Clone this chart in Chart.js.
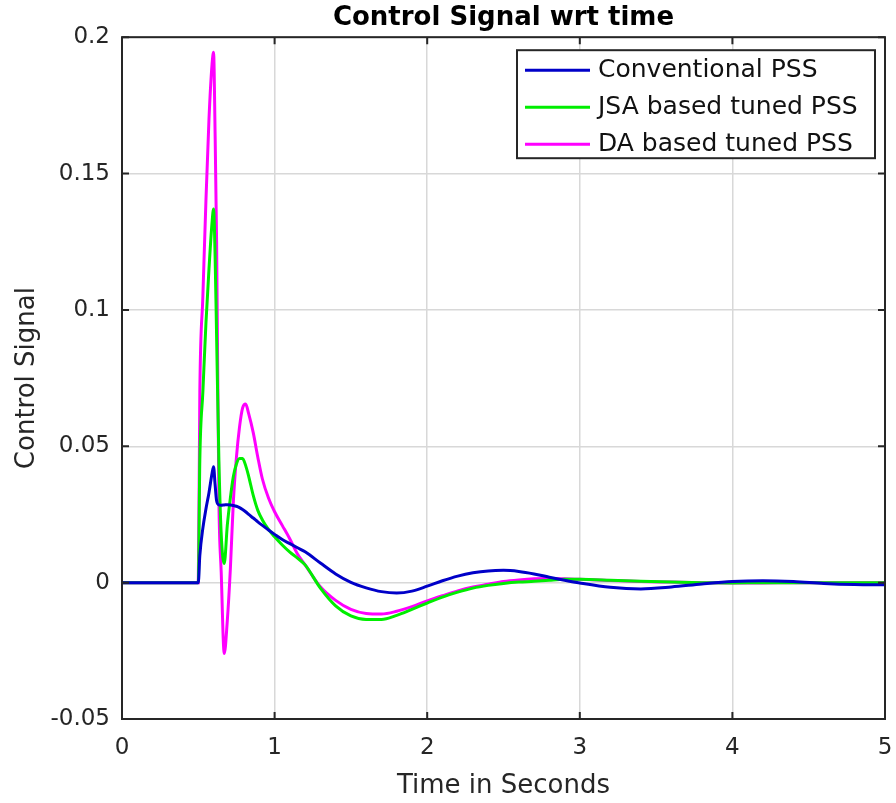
<!DOCTYPE html>
<html>
<head>
<meta charset="utf-8">
<script src="https://cdn.jsdelivr.net/npm/chart.js@4.4.1/dist/chart.umd.min.js"></script>
<style>
  html, body { margin: 0; padding: 0; background: #fff; }
  canvas { display: block; }
</style>
</head>
<body>
<canvas id="chart" width="896" height="803"></canvas>
<script>
// time in seconds (shared by all three series)
const timeSec = [
  0, 0.5, 0.51, 0.53, 0.55, 0.57, 0.59, 0.6, 0.61, 0.62, 0.635, 0.65, 0.67, 0.69, 0.71,
  0.73, 0.75, 0.77, 0.79, 0.81, 0.83, 0.86, 0.89, 0.92, 0.96, 1.0, 1.05, 1.1, 1.15, 1.2,
  1.3, 1.4, 1.5, 1.6, 1.7, 1.8, 1.9, 2.0, 2.1, 2.2, 2.3, 2.4, 2.5, 2.6, 2.7, 2.8, 2.9,
  3.0, 3.2, 3.4, 3.6, 3.8, 4.0, 4.2, 4.4, 4.6, 4.8, 5.0
];

const conventionalPss = [
  0, 0, 0.01, 0.02, 0.027, 0.033, 0.04, 0.0425, 0.036, 0.03, 0.0285, 0.0284, 0.0285, 0.0286, 0.0285,
  0.0283, 0.028, 0.0275, 0.0268, 0.026, 0.025, 0.0237, 0.0223, 0.021, 0.0193, 0.0177, 0.0158, 0.0143, 0.0128, 0.0113,
  0.0072, 0.0032, 0.0001, -0.0019, -0.0033, -0.0038, -0.0031, -0.0013, 0.0007, 0.0024, 0.0036, 0.0043, 0.0045, 0.0041, 0.0032, 0.002, 0.0009,
  -0.0001, -0.0017, -0.0023, -0.0016, -0.0005, 0.0004, 0.0007, 0.0004, -0.0003, -0.0007, -0.0008
];

const jsaPss = [
  0, 0, 0.045, 0.07, 0.095, 0.115, 0.132, 0.137, 0.12, 0.09, 0.045, 0.018, 0.007, 0.021, 0.031,
  0.039, 0.0435, 0.0455, 0.0455, 0.043, 0.039, 0.032, 0.0265, 0.023, 0.0195, 0.0168, 0.0138, 0.0112, 0.009, 0.0065,
  -0.002, -0.0085, -0.0122, -0.0135, -0.0135, -0.012, -0.0098, -0.0075, -0.0053, -0.0035, -0.002, -0.001, -0.0003, 0.0002, 0.0005, 0.0009, 0.0012,
  0.0012, 0.0009, 0.0005, 0.0002, 0, -0.0001, 0, 0, 0, 0, 0
];

const daPss = [
  0, 0, 0.07, 0.105, 0.14, 0.17, 0.19, 0.1945, 0.165, 0.125, 0.03, 0.004, -0.026, -0.014, 0.005,
  0.03, 0.046, 0.057, 0.064, 0.0655, 0.062, 0.055, 0.046, 0.038, 0.031, 0.026, 0.021, 0.016, 0.0105, 0.0065,
  -0.0015, -0.0065, -0.0098, -0.0113, -0.0115, -0.0105, -0.0088, -0.0067, -0.0048, -0.003, -0.0016, -0.0006, 0.0004, 0.001, 0.0014, 0.0015, 0.0014,
  0.0012, 0.0008, 0.0004, 0.0002, 0, -0.0001, -0.0001, 0, 0, 0, 0
];

const seriesNames = ['Conventional PSS', 'JSA based tuned PSS', 'DA based tuned PSS'];
const seriesColors = ['#0000c8', '#00ee00', '#ff00ff'];
const xTicks = [0, 1, 2, 3, 4, 5];
const yTicks = [-0.05, 0, 0.05, 0.1, 0.15, 0.2];

const FONT = 'DejaVu Sans';

const toPoints = vals => vals.map((v, i) => ({ x: timeSec[i], y: v }));

// box around the axes plus inward tick marks, MATLAB style
const framePlugin = {
  id: 'frame',
  afterDatasetsDraw(chart) {
    const { ctx, chartArea: a, scales: { x, y } } = chart;
    ctx.save();
    ctx.strokeStyle = '#262626';
    ctx.lineWidth = 2;
    ctx.beginPath();
    xTicks.forEach(t => {
      const px = x.getPixelForValue(t);
      ctx.moveTo(px, a.bottom); ctx.lineTo(px, a.bottom - 7);
      ctx.moveTo(px, a.top); ctx.lineTo(px, a.top + 7);
    });
    yTicks.forEach(t => {
      const py = y.getPixelForValue(t);
      ctx.moveTo(a.left, py); ctx.lineTo(a.left + 7, py);
      ctx.moveTo(a.right, py); ctx.lineTo(a.right - 7, py);
    });
    ctx.stroke();
    ctx.strokeRect(a.left, a.top, a.right - a.left, a.bottom - a.top);
    ctx.restore();
  }
};

// boxed legend in the upper right corner of the axes
const legendBoxPlugin = {
  id: 'legendBox',
  afterDraw(chart) {
    const { ctx, chartArea: a } = chart;
    const right = a.right - 10, top = a.top + 13;
    const w = 358, h = 108, rowH = 37;
    const left = right - w;
    ctx.save();
    ctx.fillStyle = '#fff';
    ctx.fillRect(left, top, w, h);
    ctx.strokeStyle = '#262626';
    ctx.lineWidth = 2;
    ctx.strokeRect(left, top, w, h);
    ctx.font = '25px "' + FONT + '"';
    ctx.textBaseline = 'middle';
    ctx.fillStyle = '#111';
    chart.data.datasets.forEach((ds, i) => {
      const cy = top + 20 + i * rowH;
      ctx.strokeStyle = ds.borderColor;
      ctx.lineWidth = 3;
      ctx.beginPath();
      ctx.moveTo(left + 8, cy);
      ctx.lineTo(left + 73, cy);
      ctx.stroke();
      ctx.fillText(ds.label, left + 81, cy);
    });
    ctx.restore();
  }
};

const fmt = v => String(Number(v.toFixed(3)));

new Chart(document.getElementById('chart'), {
  type: 'line',
  data: {
    datasets: seriesNames.map((name, i) => ({
      label: name,
      data: toPoints([conventionalPss, jsaPss, daPss][i]),
      borderColor: seriesColors[i],
      borderWidth: 3,
      pointRadius: 0,
      fill: false,
      cubicInterpolationMode: 'monotone'
    }))
  },
  options: {
    responsive: false,
    animation: false,
    layout: { padding: { right: 11 } },
    plugins: {
      legend: { display: false },
      tooltip: { enabled: false },
      title: {
        display: true,
        text: 'Control Signal wrt time',
        fullSize: false,
        color: '#000',
        font: { family: FONT, size: 26, weight: 'bold', lineHeight: 1.2 },
        padding: { top: 3, bottom: 3 }
      }
    },
    scales: {
      x: {
        type: 'linear',
        min: 0,
        max: 5,
        afterBuildTicks: s => { s.ticks = xTicks.map(v => ({ value: v })); },
        afterFit: s => { s.height = 84; s.paddingLeft = 0; s.paddingRight = 0; },
        grid: { color: '#d8d8d8', lineWidth: 1.5, drawTicks: false },
        border: { display: false },
        ticks: {
          color: '#262626',
          padding: 15,
          maxRotation: 0,
          font: { family: FONT, size: 23 },
          callback: fmt
        },
        title: {
          display: true,
          text: 'Time in Seconds',
          color: '#262626',
          font: { family: FONT, size: 26, lineHeight: 1.2 },
          padding: { top: 4, bottom: 1 }
        }
      },
      y: {
        type: 'linear',
        min: -0.05,
        max: 0.2,
        afterBuildTicks: s => { s.ticks = yTicks.map(v => ({ value: v })); },
        afterFit: s => { s.width = 122; s.paddingTop = 0; s.paddingBottom = 0; },
        grid: { color: '#d8d8d8', lineWidth: 1.5, drawTicks: false },
        border: { display: false },
        ticks: {
          color: '#262626',
          padding: 12,
          font: { family: FONT, size: 23 },
          callback: fmt
        },
        title: {
          display: true,
          text: 'Control Signal',
          color: '#262626',
          font: { family: FONT, size: 26, lineHeight: 1.2 },
          padding: { top: 12, bottom: 0 }
        }
      }
    }
  },
  plugins: [framePlugin, legendBoxPlugin]
});
</script>
</body>
</html>
